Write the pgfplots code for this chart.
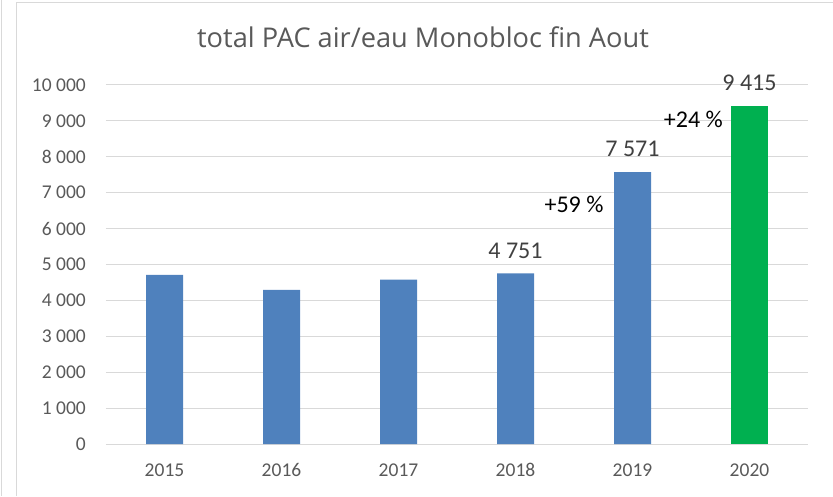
\documentclass[border=0pt]{standalone}
\usepackage{pgfplots}
\pgfplotsset{compat=1.18}
\usepackage{fontspec}
\setmainfont{Carlito}
\newfontfamily\titlefont{Open Sans}
\definecolor{barblue}{HTML}{4F81BD}
\definecolor{bargreen}{HTML}{00B050}
\definecolor{gridgray}{HTML}{D9D9D9}
\definecolor{txtgray}{HTML}{595959}
\definecolor{lblgray}{HTML}{404040}
\definecolor{bordergray}{HTML}{D9D9D9}
\begin{document}
\begin{tikzpicture}[x=1pt,y=1pt]
\useasboundingbox (0,0) rectangle (833,496);
\draw[bordergray, line width=1pt] (1.5,0) -- (1.5,496);
\draw[bordergray, line width=1pt] (16.5,0) -- (16.5,493.5) -- (833,493.5);
\node[anchor=base, text=txtgray, font=\titlefont\fontsize{27.2}{30}\selectfont, inner sep=0pt] at (423,448.7) {total PAC air/eau Monobloc fin Aout};
\begin{axis}[
  at={(106pt,52pt)}, anchor=south west, scale only axis,
  width=702pt, height=359pt,
  xmin=-0.5, xmax=5.5, ymin=0, ymax=10000,
  axis line style={draw=none}, major tick length=0pt,
  scaled y ticks=false,
  ymajorgrids, grid style={gridgray, line width=1pt},
  xtick={0,1,2,3,4,5}, xticklabels={2015,2016,2017,2018,2019,2020},
  ytick={0,1000,2000,3000,4000,5000,6000,7000,8000,9000,10000},
  yticklabels={0,1 000,2 000,3 000,4 000,5 000,6 000,7 000,8 000,9 000,10 000},
  tick label style={font=\fontsize{19.5}{20}\selectfont, text=txtgray, inner sep=0pt},
  yticklabel style={anchor=east, xshift=-20pt},
  xticklabel style={anchor=base, yshift=-32pt},
  ybar, bar width=37pt,
  clip=false,
]
\addplot[ybar, bar shift=0pt, fill=barblue, draw=none] coordinates {(0,4710) (1,4290) (2,4580)};
\addplot[ybar, bar shift=0pt, fill=barblue, draw=none,
  nodes near coords, point meta=explicit symbolic,
  every node near coord/.append style={font=\fontsize{24}{26}\selectfont, text=lblgray, anchor=south, inner sep=0pt, yshift=15pt}]
  coordinates {(3,4751) [4 751] (4,7571) [7 571]};
\addplot[ybar, bar shift=0pt, fill=bargreen, draw=none,
  nodes near coords, point meta=explicit symbolic,
  every node near coord/.append style={font=\fontsize{24}{26}\selectfont, text=lblgray, anchor=south, inner sep=0pt, yshift=15pt}]
  coordinates {(5,9415) [9 415]};
\node[anchor=base, font=\fontsize{24}{26}\selectfont, text=black, inner sep=0pt] at (axis cs:3.5,6443) {+59 \%};
\node[anchor=base, font=\fontsize{24}{26}\selectfont, text=black, inner sep=0pt] at (axis cs:4.52,8811) {+24 \%};
\end{axis}
\end{tikzpicture}
\end{document}
